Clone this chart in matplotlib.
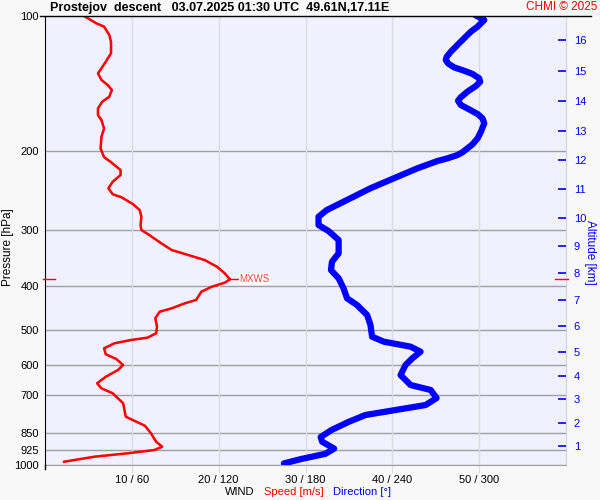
import numpy as np
import matplotlib
matplotlib.use('Agg')
import matplotlib.pyplot as plt
from matplotlib.lines import Line2D
import matplotlib.transforms as mtransforms

plt.rcParams['font.family'] = ['Liberation Sans', 'DejaVu Sans']

# DATOS: perfil de viento (descenso)
pres_speed = [100.0, 103.8, 105.6, 110.2, 114.1, 121.1, 126.4, 130.8, 134.2, 138.8,
              142.4, 146.1, 151.3, 155.2, 160.6, 166.2, 170.5, 178.0, 185.8, 197.3,
              206.2, 211.6, 220.3, 226.1, 233.9, 241.9, 249.5, 253.3, 262.2, 270.4,
              279.9, 292.1, 299.6, 307.4, 320.9, 332.1, 340.7, 349.6, 361.8, 374.2,
              385.9, 392.6, 400.8, 411.2, 429.0, 436.4, 447.7, 455.6, 471.3, 492.0,
              508.9, 520.5, 526.7, 535.7, 549.6, 566.8, 580.6, 598.8, 614.4, 636.0,
              657.7, 674.8, 692.3, 728.7, 780.5, 793.9, 817.4, 850.0, 887.5, 910.5,
              926.0, 941.8, 958.3, 983.3]
speed = [4.5, 5.9, 6.8, 7.4, 7.6, 7.6, 7.0, 6.5, 6.1, 6.5,
         7.2, 7.7, 7.4, 6.6, 6.1, 6.1, 6.5, 6.8, 6.5, 6.4,
         6.8, 7.6, 8.7, 8.7, 7.8, 7.3, 7.8, 8.8, 10.1, 10.9,
         11.1, 11.0, 11.1, 12.0, 13.4, 14.6, 16.5, 18.4, 19.8, 20.7,
         21.3, 20.7, 19.2, 18.0, 17.4, 16.1, 14.6, 13.2, 12.7, 12.9,
         12.8, 11.8, 9.9, 8.0, 6.8, 7.0, 8.2, 9.0, 8.4, 7.0,
         6.0, 6.5, 7.8, 9.0, 9.3, 10.1, 11.5, 12.2, 12.8, 13.5,
         12.6, 9.5, 5.7, 2.2]

pres_dir = [99.4, 102.1, 105.6, 108.4, 112.1, 116.0, 120.1, 123.2, 125.3, 127.5,
            130.1, 132.4, 134.6, 137.7, 140.1, 143.2, 147.4, 151.7, 154.4, 157.8,
            161.4, 165.3, 169.0, 173.4, 181.1, 187.3, 193.1, 197.1, 201.1, 204.0,
            207.5, 210.4, 218.4, 229.9, 241.9, 259.2, 270.4, 279.9, 292.1, 301.2,
            315.4, 337.7, 352.6, 368.0, 383.9, 404.2, 425.3, 440.3, 463.4, 487.9,
            517.9, 531.3, 545.1, 559.3, 578.6, 598.8, 630.5, 663.5, 680.7, 709.3,
            735.2, 754.3, 773.9, 802.1, 835.7, 866.3, 887.5, 919.4, 944.3, 969.8,
            991.8]
direction = [297.0, 303.5, 298.9, 294.2, 289.6, 285.0, 280.4, 277.6, 276.9, 278.5,
             282.6, 289.6, 295.4, 300.0, 300.7, 297.7, 291.9, 287.3, 285.4, 287.3,
             293.0, 298.9, 302.3, 303.5, 301.2, 298.9, 295.4, 291.9, 288.5, 285.0,
             278.1, 271.1, 257.3, 241.0, 224.9, 206.3, 194.8, 189.0, 189.0, 195.9,
             202.9, 202.9, 198.3, 197.6, 202.9, 206.3, 208.7, 215.6, 222.6, 224.9,
             226.0, 234.1, 252.6, 259.5, 253.8, 249.1, 245.7, 252.6, 266.5, 270.6,
             263.0, 242.2, 221.4, 209.6, 198.0, 190.5, 191.5, 199.8, 193.7, 177.0,
             165.1]

niveles_p = [200, 300, 400, 500, 600, 700, 850, 925, 1000]
alt_km = [1, 2, 3, 4, 5, 6, 7, 8, 9, 10, 11, 12, 13, 14, 15, 16]
alt_pres = [907.4, 806.3, 712.9, 633.7, 560.3, 490.2, 429.0, 373.6, 325.3, 281.8,
            242.8, 209.3, 180.4, 154.7, 132.6, 113.1]
x_ticks = [10, 20, 30, 40, 50]
x_labels = ['10 / 60', '20 / 120', '30 / 180', '40 / 240', '50 / 300']

titulo = 'Prostejov  descent   03.07.2025 01:30 UTC  49.61N,17.11E'

# FIGURA
fig = plt.figure(figsize=(6, 5), dpi=100, facecolor='#F8F8F8')
ax = fig.add_axes([45/600, 35/500, 521/600, 449/500], facecolor='#F0F0FF')

ax.set_yscale('log')
ax.set_ylim(1000, 100)
ax.set_xlim(0, 60)

for p in niveles_p:
    ax.axhline(p, color='#A0A0A0', lw=1.0, zorder=1)
for xv in x_ticks:
    ax.axvline(xv, color='#DCDCDC', lw=1.0, zorder=1)

ax.plot(speed, pres_speed, color='#FF0000', lw=1.8, zorder=3,
        solid_joinstyle='round')
ax.plot(np.array(direction) / 6.0, pres_dir, color='#0000FF', lw=4.5,
        solid_capstyle='round', solid_joinstyle='round', zorder=2)

ax.yaxis.set_minor_locator(matplotlib.ticker.NullLocator())
ax.set_yticks(niveles_p + [100])
ax.set_yticklabels([str(p) for p in niveles_p] + ['100'])
ax.tick_params(axis='y', length=0, pad=4.5, labelsize=8)
ax.set_xticks(x_ticks)
ax.set_xticklabels(x_labels)
ax.tick_params(axis='x', length=6, color='#DCDCDC', pad=1.5, labelsize=8)

ax.spines['left'].set_color('black')
ax.spines['top'].set_visible(False)
ax.spines['bottom'].set_color('#A0A0A0')
ax.spines['right'].set_color('#D4D4D4')

# Eje derecho: altitud
ax2 = ax.twinx()
ax2.set_yscale('log')
ax2.set_ylim(1000, 100)
ax2.yaxis.set_minor_locator(matplotlib.ticker.NullLocator())
ax2.set_yticks(alt_pres)
ax2.set_yticklabels([str(a) for a in alt_km])
ax2.tick_params(axis='y', direction='in', length=6, width=1.2, color='#0000FF',
                labelcolor='#0000FF', labelsize=8, pad=5.5)
for s in ax2.spines.values():
    s.set_visible(False)

# MXWS
i_max = int(np.argmax(speed))
p_max = pres_speed[i_max]
v_max = speed[i_max]
trans = mtransforms.blended_transform_factory(ax.transAxes, ax.transData)
ax.plot([-0.004, 0.02], [p_max, p_max], color='#FF0000', lw=1, transform=trans,
        clip_on=False, zorder=4)
ax.plot([0.979, 1.004], [p_max, p_max], color='#FF0000', lw=1, transform=trans,
        clip_on=False, zorder=4)
ax.plot([v_max, v_max + 0.9], [p_max, p_max], color='#FF0000', lw=1, zorder=4)
ax.text(v_max + 1.1, p_max, 'MXWS', color='#FF4040', fontsize=7, va='center',
        ha='left', zorder=5,
        bbox=dict(boxstyle='square,pad=0.1', facecolor='white', edgecolor='none'))

# Linea superior y prolongacion del eje izquierdo
fig.add_artist(Line2D([40/600, 591/600], [1 - 16/500, 1 - 16/500], color='black', lw=1))
fig.add_artist(Line2D([45/600, 45/600], [1 - 465/500, 1 - 469/500], color='black', lw=1))

# Textos
fig.text(50/600, 1 - 8/500, titulo, fontsize=9, fontweight='bold', va='center', ha='left')
fig.text(597/600, 1 - 7/500, 'CHMI © 2025', fontsize=8.5, color='#FF0000', va='center', ha='right')
fig.text(8/600, 1 - 247/500, 'Pressure [hPa]', rotation=90, fontsize=8.5, va='center', ha='center')
fig.text(590/600, 1 - 252/500, 'Altitude [km]', rotation=270, fontsize=8.5, color='#0000FF',
         va='center', ha='center')
fig.text(225/600, 1 - 492/500, 'WIND', fontsize=8, va='center', ha='left')
fig.text(264/600, 1 - 492/500, 'Speed [m/s]', fontsize=8, color='#FF0000', va='center', ha='left')
fig.text(333/600, 1 - 492/500, 'Direction [°]', fontsize=8, color='#0000FF', va='center', ha='left')

plt.savefig('out.png', dpi=100, facecolor=fig.get_facecolor())
plt.close()
